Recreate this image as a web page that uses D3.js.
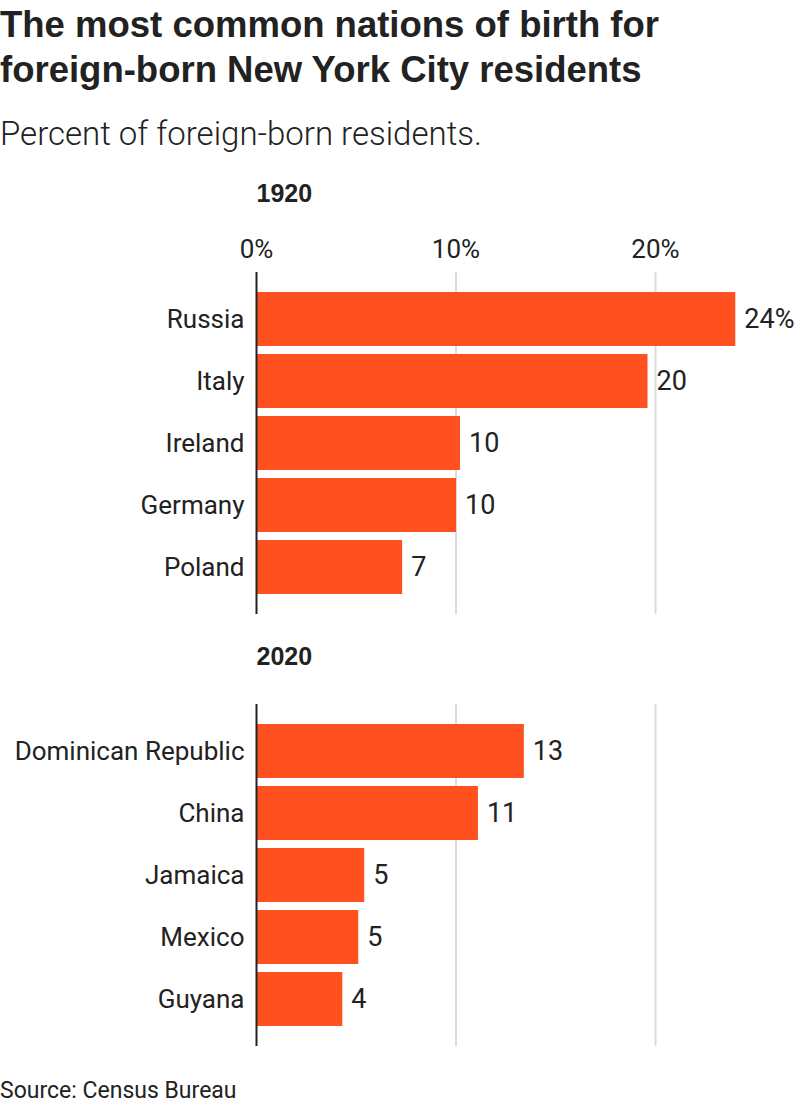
<!DOCTYPE html>
<html>
<head>
<meta charset="utf-8">
<script src="https://cdn.jsdelivr.net/npm/d3@7"></script>
<style>
  body { margin: 0; background: #fff; }
  svg { display: block; }
  text { fill: #222; }
</style>
</head>
<body>
<svg id="chart"></svg>
<script>
// Data
const countries1920 = ['Russia', 'Italy', 'Ireland', 'Germany', 'Poland'];
const values1920 = [24.0, 19.6, 10.2, 10.0, 7.3];
const labels1920 = ['24%', '20', '10', '10', '7'];

const countries2020 = ['Dominican Republic', 'China', 'Jamaica', 'Mexico', 'Guyana'];
const values2020 = [13.4, 11.1, 5.4, 5.1, 4.3];
const labels2020 = ['13', '11', '5', '5', '4'];

const tickValues = [0, 10, 20];
const tickLabels = ['0%', '10%', '20%'];

const width = 800;
const height = 1116;
const orange = '#ff5020';
const bodyFont = 'Roboto, "Liberation Sans", sans-serif';
const titleFont = '"Liberation Sans Narrow", "Liberation Sans", Arial, sans-serif';

const svg = d3.select('#chart')
    .attr('width', width)
    .attr('height', height);

// Shared x scale: 0% at the axis line, 10% steps of 200px
const x = d3.scaleLinear().domain([0, 10]).range([256.5, 456]);

// Title and subtitle
svg.append('text')
    .attr('x', 0).attr('y', 37)
    .attr('font-family', titleFont)
    .attr('font-weight', 700)
    .attr('font-size', 36.5)
    .text('The most common nations of birth for');
svg.append('text')
    .attr('x', 0).attr('y', 82)
    .attr('font-family', titleFont)
    .attr('font-weight', 700)
    .attr('font-size', 36.5)
    .text('foreign-born New York City residents');
svg.append('text')
    .attr('x', 0).attr('y', 145)
    .attr('font-family', bodyFont)
    .attr('font-weight', 300)
    .attr('font-size', 33)
    .text('Percent of foreign-born residents.');

// Draw one panel of bars
function drawPanel(year, countries, values, labels, top, yearY, showTicks) {
    const y = d3.scaleBand()
        .domain(countries)
        .range([top, top + 302])
        .paddingInner(8 / 62)
        .paddingOuter(0);

    const g = svg.append('g');

    g.append('text')
        .attr('x', x(0))
        .attr('y', yearY)
        .attr('font-family', titleFont)
        .attr('font-weight', 700)
        .attr('font-size', 25)
        .text(year);

    // Gridlines
    g.selectAll('.grid')
        .data(tickValues.slice(1))
        .enter().append('line')
        .attr('x1', d => x(d)).attr('x2', d => x(d))
        .attr('y1', top - 20).attr('y2', top + 322)
        .attr('stroke', '#dcdcdc')
        .attr('stroke-width', 2);

    if (showTicks) {
        g.selectAll('.tick')
            .data(tickValues)
            .enter().append('text')
            .attr('x', d => x(d))
            .attr('y', top - 34)
            .attr('text-anchor', 'middle')
            .attr('font-family', bodyFont)
            .attr('font-size', 26)
            .text((d, i) => tickLabels[i]);
    }

    const rows = countries.map((c, i) => ({ country: c, value: values[i], label: labels[i] }));

    g.selectAll('.bar')
        .data(rows)
        .enter().append('rect')
        .attr('x', x(0))
        .attr('y', d => y(d.country))
        .attr('width', d => x(d.value) - x(0))
        .attr('height', y.bandwidth())
        .attr('fill', orange);

    g.selectAll('.name')
        .data(rows)
        .enter().append('text')
        .attr('x', x(0) - 12)
        .attr('y', d => y(d.country) + y.bandwidth() / 2)
        .attr('dy', '0.35em')
        .attr('text-anchor', 'end')
        .attr('font-family', bodyFont)
        .attr('font-size', 26)
        .text(d => d.country);

    g.selectAll('.value')
        .data(rows)
        .enter().append('text')
        .attr('x', d => x(d.value) + 9)
        .attr('y', d => y(d.country) + y.bandwidth() / 2)
        .attr('dy', '0.35em')
        .attr('font-family', bodyFont)
        .attr('font-size', 27)
        .text(d => d.label);

    // Zero axis line
    g.append('line')
        .attr('x1', x(0)).attr('x2', x(0))
        .attr('y1', top - 20).attr('y2', top + 322)
        .attr('stroke', '#222')
        .attr('stroke-width', 2);
}

drawPanel('1920', countries1920, values1920, labels1920, 292, 202, true);
drawPanel('2020', countries2020, values2020, labels2020, 724, 665, false);

svg.append('text')
    .attr('x', 0).attr('y', 1098)
    .attr('font-family', bodyFont)
    .attr('font-size', 23)
    .text('Source: Census Bureau');
</script>
</body>
</html>
